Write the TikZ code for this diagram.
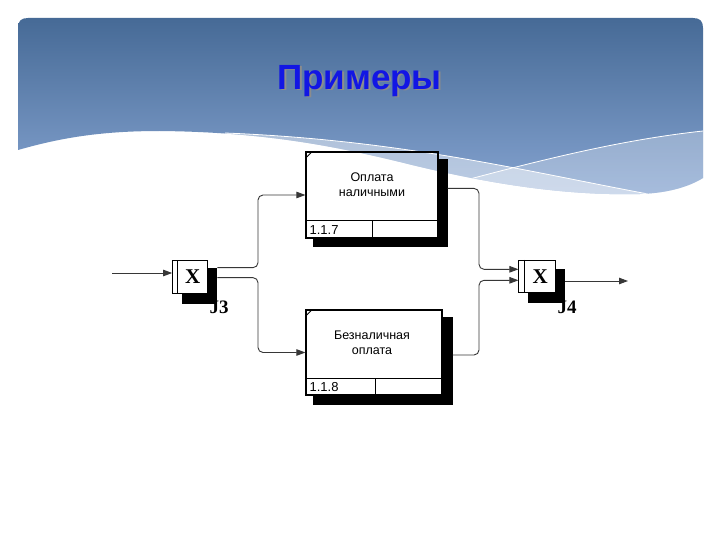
\documentclass[tikz,border=0pt]{standalone}
\usepackage{fontspec}
\setmainfont{Liberation Sans}
\newfontfamily\serifb{Liberation Serif}
\usetikzlibrary{arrows.meta,calc}
\definecolor{hdtop}{RGB}{70,106,150}
\definecolor{hdbot}{RGB}{135,165,210}
\definecolor{titleblue}{RGB}{18,22,228}
\definecolor{connc}{RGB}{55,55,55}
\tikzset{
  pbox/.style={draw=black, line width=1.2pt, inner sep=0pt},
  jbox/.style={draw=black, fill=white, line width=1pt, inner sep=0pt},
  conn/.style={draw=connc, line width=0.9pt, rounded corners=5pt},
  arr/.style={-{Triangle[length=9pt,width=6.5pt]}},
  boxtext/.style={align=center, font=\fontsize{12.5}{15}\selectfont, inner sep=0pt},
  numtext/.style={anchor=west, font=\fontsize{13}{15}\selectfont, inner sep=0pt},
  xlab/.style={font=\serifb\bfseries\fontsize{21}{21}\selectfont, inner sep=0pt},
  jlab/.style={font=\serifb\bfseries\fontsize{19}{19}\selectfont, inner sep=0pt},
  titlefont/.style={font=\bfseries\fontsize{35}{40}\selectfont, inner sep=0pt}
}
\begin{document}
\begin{tikzpicture}[x=1pt,y=-1pt]
\useasboundingbox (0,0) rectangle (720,540);
\fill[white] (0,0) rectangle (720,540);
% header
\begin{scope}
\clip (18,150) -- (18,28) .. controls (18,21) and (21,18) .. (28,18) -- (693,18) .. controls (700,18) and (703,21) .. (703,28) -- (703,178) .. controls (690,186) and (670,193) .. (640,194) .. controls (560,196) and (480,182) .. (400,162) .. controls (330,145) and (260,132) .. (160,131) .. controls (100,131) and (60,138) .. (18,150) -- cycle;
\shade[top color=hdtop, bottom color=hdbot] (18,18) rectangle (703,200);
\fill[white,opacity=0.45] (225,133) .. controls (400,140) and (520,170) .. (648,194) -- (648,215) -- (200,215) -- cycle;
\fill[white,opacity=0.28] (440,187) .. controls (540,160) and (620,140) .. (703,131) -- (703,215) -- (440,215) -- cycle;
\draw[white,line width=0.8pt] (225,133) .. controls (400,140) and (520,170) .. (648,194);
\draw[white,line width=0.8pt] (440,187) .. controls (540,160) and (620,140) .. (703,131);
\end{scope}
% title
\node[titlefont, text=black!45] (titlesh) at (361.5,82.5) {Примеры};
\node[titlefont, text=titleblue] (title) at (359.5,81) {Примеры};

% box 1
\node[pbox, minimum width=132, minimum height=86] (b1) at (372,195) {};
\fill ($(b1.north east)+(0,8)$) rectangle ($(b1.south east)+(9,8)$);
\fill ($(b1.south west)+(8,0)$) rectangle ($(b1.south east)+(9,8)$);
\draw[line width=1.2pt] ($(b1.north west)+(0,8)$) -- ($(b1.north west)+(0,0)$) -- ($(b1.north east)$);
\node[pbox, minimum width=132, minimum height=86] (b1f) at (b1.center) {};
\draw[line width=1pt] ($(b1.south west)+(0,-18)$) -- ($(b1.south east)+(0,-18)$);
\draw[line width=1pt] ($(b1.south west)+(67,0)$) -- ($(b1.south west)+(67,-18)$);
\draw[line width=0.8pt] ($(b1.north west)+(0,7)$) -- ($(b1.north west)+(7,0)$);
\node[boxtext] (b1t) at ($(b1.north)+(0,33)$) {Оплата\\наличными};
\node[numtext] (b1n) at ($(b1.south west)+(4,-9)$) {1.1.7};

% box 2
\node[pbox, minimum width=136, minimum height=85] (b2) at (374,352.5) {};
\fill ($(b2.north east)+(0,8)$) rectangle ($(b2.south east)+(10,9)$);
\fill ($(b2.south west)+(8,0)$) rectangle ($(b2.south east)+(10,9)$);
\node[pbox, minimum width=136, minimum height=85] (b2f) at (b2.center) {};
\draw[line width=1pt] ($(b2.south west)+(0,-17)$) -- ($(b2.south east)+(0,-17)$);
\draw[line width=1pt] ($(b2.south west)+(70,0)$) -- ($(b2.south west)+(70,-17)$);
\draw[line width=0.8pt] ($(b2.north west)+(0,7)$) -- ($(b2.north west)+(7,0)$);
\node[boxtext] (b2t) at ($(b2.north)+(-2,33)$) {Безналичная\\оплата};
\node[numtext] (b2n) at ($(b2.south west)+(4,-8.5)$) {1.1.8};

% junction J3
\node[jbox, minimum width=35.3, minimum height=32.3] (j3) at (190.3,277) {};
\fill ($(j3.north east)+(0,7.3)$) rectangle ($(j3.south east)+(9,10)$);
\fill ($(j3.south west)+(10,0)$) rectangle ($(j3.south east)+(9,10)$);
\draw[line width=1pt] ($(j3.north west)+(5,0)$) -- ($(j3.south west)+(5,0)$);
\node[xlab] (j3x) at ($(j3.center)+(2.5,0)$) {X};
\node[jlab] (j3l) at (219,307) {J3};

% junction J4
\node[jbox, minimum width=36.7, minimum height=32] (j4) at (537.3,276.3) {};
\fill ($(j4.north east)+(0,8.7)$) rectangle ($(j4.south east)+(9,10)$);
\fill ($(j4.south west)+(10,0)$) rectangle ($(j4.south east)+(9,10)$);
\draw[line width=1pt] ($(j4.north west)+(6,0)$) -- ($(j4.south west)+(6,0)$);
\node[xlab] (j4x) at ($(j4.center)+(3,0)$) {X};
\node[jlab] (j4l) at (567,307) {J4};

% connectors
\coordinate (busL) at (258,0);
\coordinate (busR) at (479,0);
\coordinate (inp) at (112,273);
\coordinate (outp) at (628,0);
\draw[conn,arr] (inp) -- ([yshift=4pt]j3.west);
\draw[conn,arr] ($(j3.north east)+(9,7.3)$) coordinate (j3o1) -- (j3o1 -| busL) |- (b1.west);
\draw[conn,arr] ($(j3.north east)+(9,17.3)$) coordinate (j3o2) -- (j3o2 -| busL) |- (b2.west);
\draw[conn,arr] ($(b1.north east)+(9,37)$) coordinate (b1o) -- (b1o -| busR) |- ([yshift=7pt]j4.west);
\draw[conn,arr] ($(b2.east)+(10,2.5)$) coordinate (b2o) -- (b2o -| busR) |- ([yshift=-4pt]j4.west);
\draw[conn,arr] ($(j4.east)+(9,4.7)$) coordinate (j4o) -- (j4o -| outp);
\end{tikzpicture}
\end{document}
